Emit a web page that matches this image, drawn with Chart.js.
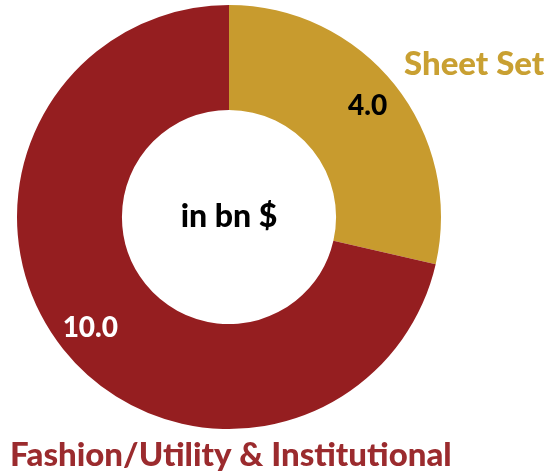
<!DOCTYPE html>
<html>
<head>
<meta charset="utf-8">
<script src="https://cdn.jsdelivr.net/npm/chart.js@4/dist/chart.umd.min.js"></script>
<style>
  html, body { margin: 0; padding: 0; background: #ffffff; }
  #wrap { width: 554px; height: 473px; }
</style>
</head>
<body>
<div id="wrap"><canvas id="c" width="554" height="473"></canvas></div>
<script>
// Segment names and values (bn $)
const categories = ['Sheet Set', 'Fashion/Utility & Institutional'];
const values = [4.0, 10.0];
const segmentColors = ['#C89B2E', '#951E20'];
const nameColors = ['#C9A032', '#9B2B2E'];
const valueTextColors = ['#000000', '#ffffff'];
const centerText = 'in bn $';

const FONT = 'Lato, "Open Sans", sans-serif';

// Value labels inside each ring segment, the centre caption and segment names
const labelPlugin = {
  id: 'ringLabels',
  afterDatasetsDraw(chart) {
    const ctx = chart.ctx;
    const meta = chart.getDatasetMeta(0);
    ctx.save();
    ctx.textAlign = 'center';
    ctx.textBaseline = 'middle';
    meta.data.forEach((arc, i) => {
      const p = arc.getProps(['x', 'y', 'startAngle', 'endAngle', 'innerRadius', 'outerRadius'], true);
      const mid = (p.startAngle + p.endAngle) / 2;
      const r = p.innerRadius + (p.outerRadius - p.innerRadius) * 0.67;
      ctx.fillStyle = valueTextColors[i];
      ctx.font = '900 28px ' + FONT;
      ctx.fillText(values[i].toFixed(1), p.x + Math.cos(mid) * r, p.y + Math.sin(mid) * r);
    });
    const a0 = meta.data[0];
    ctx.fillStyle = '#000000';
    ctx.font = '900 32px ' + FONT;
    ctx.fillText(centerText, a0.x, a0.y);

    // segment names
    ctx.font = '900 33px ' + FONT;
    ctx.textBaseline = 'alphabetic';
    ctx.textAlign = 'left';
    ctx.fillStyle = nameColors[0];
    ctx.fillText(categories[0], 404, 75);
    ctx.fillStyle = nameColors[1];
    ctx.fillText(categories[1], 10, 466);
    ctx.restore();
  }
};

new Chart(document.getElementById('c'), {
  type: 'doughnut',
  data: {
    labels: categories,
    datasets: [{
      data: values,
      backgroundColor: segmentColors,
      borderWidth: 0
    }]
  },
  options: {
    responsive: false,
    animation: false,
    cutout: '50.5%',
    layout: { padding: { left: 17, top: 5, right: 113, bottom: 44 } },
    plugins: {
      legend: { display: false },
      tooltip: { enabled: false }
    }
  },
  plugins: [labelPlugin]
});
</script>
</body>
</html>
